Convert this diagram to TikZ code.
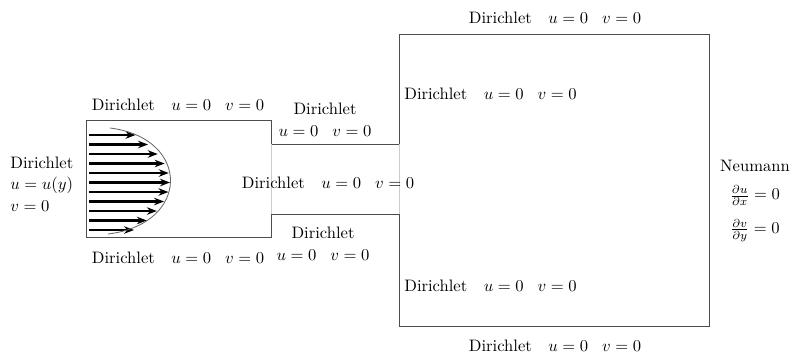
\documentclass[tikz,border=0pt]{standalone}
\usepackage{amsmath}
\usepackage{tikz}
\usetikzlibrary{arrows.meta, positioning, calc}

\newcommand{\dirzero}{Dirichlet\quad$u=0\;\;\;v=0$}

\begin{document}
\begin{tikzpicture}[
        x=0.603pt, y=-0.603pt,
        wall/.style={draw=black!70, line width=0.55pt},
        opening/.style={draw=black!20, line width=0.4pt},
        profile/.style={draw=black!60, line width=0.5pt},
        flow/.style={line width=1.5pt, -{Stealth[length=6pt, width=4.5pt]}},
        lbl/.style={inner sep=0pt, font=\normalsize},
        bc/.style={lbl, align=center}
    ]
        \useasboundingbox (0,0) rectangle (796,357);

        % geometry corners
        \coordinate (inA) at (86,120);
        \coordinate (inB) at (86,237);
        \coordinate (chA) at (271,144);
        \coordinate (chB) at (271,214);
        \coordinate (chC) at (399,144);
        \coordinate (chD) at (399,214);

        % walls
        \draw[wall] (chA) -- (271,120) -- (inA) -- (inB) -- (271,237) -- (chB);
        \draw[wall] (chA) -- (chC) -- (399,34) -- (709,34) -- (709,326) -- (399,326) -- (chD) -- (chB);

        % openings between the parts
        \draw[opening] (chA) -- (chB);
        \draw[opening] (chC) -- (chD);

        % inlet velocity profile
        \foreach \i in {0,...,10} {
            \pgfmathsetmacro{\yy}{135+9.5*\i}
            \pgfmathsetmacro{\xx}{89+81*(1-((\yy-182)/72)^2)}
            \draw[flow] (89,\yy) -- (\xx,\yy);
        }
        \draw[profile] (110,128) .. controls (191,138) and (191,224) .. (108,234);

        % boundary conditions
        \node[bc] (bcleft) at (10,184) [anchor=west, align=left] {Dirichlet\\[1pt] $u=u(y)$\\[1pt] $v=0$};
        \node[bc] (bcintop) at (178,105) {\dirzero};
        \node[bc] (bcinbot) at (178,258) {\dirzero};
        \node[bc] (bcchtop) at (325,120) {Dirichlet\\[1pt] $u=0\;\;\;v=0$};
        \node[bc] (bcchbot) at (323,244) {Dirichlet\\[1pt] $u=0\;\;\;v=0$};
        \node[bc] (bcchmid) at (328,183) {\dirzero};
        \node[bc] (bcouttop) at (555,18) {\dirzero};
        \node[bc] (bcoutbot) at (555,346) {\dirzero};
        \node[lbl, anchor=west] (bcstep1) at (404,94) {\dirzero};
        \node[lbl, anchor=west] (bcstep2) at (404,286) {\dirzero};
        \node[bc] (bcright) at (755,201) {Neumann\\[5pt] $\frac{\partial u}{\partial x}=0$\\[7pt] $\frac{\partial v}{\partial y}=0$};
    \end{tikzpicture}
\end{document}
